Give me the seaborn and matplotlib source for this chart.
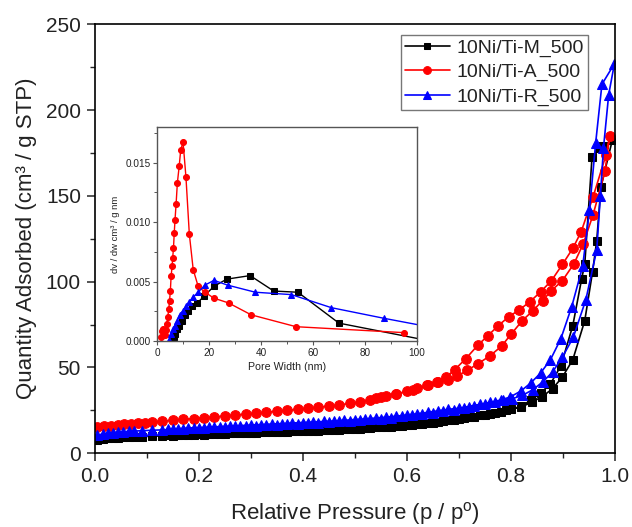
import numpy as np
import pandas as pd
import matplotlib
matplotlib.use("Agg")
import matplotlib.pyplot as plt
import seaborn as sns
from matplotlib.ticker import MultipleLocator

# ---------------- main isotherm data ----------------
m_ads_p = [0.005, 0.015, 0.025, 0.035, 0.045, 0.055, 0.065, 0.075, 0.090, 0.110, 0.130, 0.150, 0.170,
           0.190, 0.210, 0.230, 0.250, 0.270, 0.290, 0.310, 0.330, 0.350, 0.370, 0.390, 0.410, 0.430,
           0.450, 0.470, 0.490, 0.510, 0.530, 0.550, 0.570, 0.590, 0.610, 0.630, 0.650, 0.670, 0.690,
           0.710, 0.730, 0.750, 0.770, 0.790, 0.820, 0.840, 0.859, 0.880, 0.899, 0.919, 0.942, 0.957,
           0.965, 0.973, 0.995]
m_ads_q = [7.9, 8.3, 8.6, 8.8, 9.0, 9.2, 9.4, 9.5, 9.7, 9.9, 10.1, 10.3, 10.5,
           10.7, 10.9, 11.1, 11.3, 11.5, 11.7, 11.9, 12.1, 12.3, 12.5, 12.7, 12.9, 13.1,
           13.3, 13.6, 13.9, 14.2, 14.6, 15.0, 15.4, 15.9, 16.5, 17.1, 17.8, 18.5, 19.4,
           20.3, 21.3, 22.4, 23.6, 25.0, 26.9, 29.8, 32.7, 37.6, 44.4, 54.5, 77.3, 105.8,
           123.8, 155.0, 182.5]
m_des_p = [0.978, 0.970, 0.956, 0.942, 0.936, 0.919, 0.896, 0.876, 0.857, 0.838, 0.819, 0.800,
           0.780, 0.760, 0.740, 0.720, 0.700, 0.680, 0.660, 0.640, 0.620, 0.600, 0.580, 0.560,
           0.540, 0.520, 0.500, 0.480, 0.460, 0.440, 0.420, 0.400, 0.380, 0.360, 0.340, 0.320,
           0.300, 0.280, 0.260, 0.240, 0.220, 0.200, 0.180, 0.160, 0.140]
m_des_q = [179.0, 178.0, 172.7, 110.3, 101.6, 74.4, 50.8, 40.5, 35.0, 30.8, 27.3, 25.6,
           24.2, 23.0, 22.0, 21.0, 20.0, 19.2, 18.4, 17.7, 17.0, 16.4, 15.9, 15.4,
           15.0, 14.6, 14.3, 14.0, 13.7, 13.4, 13.2, 13.0, 12.8, 12.6, 12.4, 12.2,
           12.0, 11.8, 11.6, 11.4, 11.2, 11.0, 10.8, 10.6, 10.4]

a_ads_p = [0.005, 0.018, 0.031, 0.044, 0.057, 0.070, 0.083, 0.096, 0.110, 0.130, 0.150, 0.170, 0.190,
           0.210, 0.230, 0.250, 0.270, 0.290, 0.310, 0.330, 0.350, 0.370, 0.390, 0.410, 0.430, 0.450,
           0.470, 0.490, 0.510, 0.530, 0.550, 0.580, 0.612, 0.638, 0.657, 0.680, 0.696, 0.716, 0.736,
           0.760, 0.782, 0.801, 0.822, 0.842, 0.861, 0.878, 0.899, 0.921, 0.939, 0.958, 0.981, 0.990]
a_ads_q = [15.0, 15.6, 16.1, 16.6, 17.0, 17.3, 17.6, 17.9, 18.2, 18.7, 19.2, 19.7, 20.2,
           20.7, 21.2, 21.7, 22.2, 22.8, 23.3, 23.9, 24.4, 25.0, 25.6, 26.2, 26.8, 27.5,
           28.2, 29.0, 29.9, 31.0, 32.5, 34.5, 37.0, 39.5, 41.3, 42.6, 44.8, 48.3, 52.0,
           56.8, 62.4, 69.6, 77.3, 83.0, 89.0, 94.8, 100.6, 110.3, 122.0, 139.0, 164.5, 185.0]
a_des_p = [0.983, 0.958, 0.935, 0.919, 0.899, 0.878, 0.857, 0.837, 0.816, 0.796, 0.776, 0.756,
           0.736, 0.713, 0.692, 0.676, 0.660, 0.640, 0.620, 0.600, 0.580, 0.560, 0.540]
a_des_q = [174.0, 149.4, 129.0, 119.4, 110.0, 100.6, 94.0, 88.4, 83.5, 79.6, 74.4, 68.6,
           62.8, 55.0, 48.7, 44.5, 41.5, 39.5, 37.8, 36.0, 34.6, 33.2, 32.0]

r_ads_p = [0.005, 0.015, 0.025, 0.035, 0.045, 0.055, 0.065, 0.075, 0.090, 0.110, 0.130, 0.150, 0.170,
           0.190, 0.210, 0.230, 0.250, 0.270, 0.290, 0.310, 0.330, 0.350, 0.370, 0.390, 0.410, 0.430,
           0.450, 0.470, 0.490, 0.510, 0.530, 0.550, 0.570, 0.590, 0.610, 0.630, 0.650, 0.670, 0.690,
           0.710, 0.730, 0.750, 0.770, 0.785, 0.803, 0.822, 0.842, 0.861, 0.880, 0.899, 0.920, 0.944,
           0.965, 0.972, 0.978, 0.988, 0.999]
r_ads_q = [10.5, 11.2, 11.6, 12.0, 12.3, 12.5, 12.7, 12.9, 13.1, 13.4, 13.6, 13.9, 14.2,
           14.5, 14.7, 15.0, 15.3, 15.6, 15.9, 16.1, 16.4, 16.7, 17.0, 17.3, 17.6, 17.9,
           18.2, 18.5, 18.9, 19.3, 19.7, 20.2, 20.8, 21.4, 22.1, 22.8, 23.6, 24.5, 25.4,
           26.4, 27.5, 28.7, 30.0, 30.8, 31.8, 33.7, 37.0, 41.5, 47.3, 56.0, 67.6, 89.4,
           118.4, 150.0, 178.0, 209.0, 227.0]
r_des_p = [0.975, 0.963, 0.951, 0.938, 0.917, 0.896, 0.876, 0.857, 0.838, 0.819, 0.798,
           0.780, 0.760, 0.740, 0.720, 0.700, 0.680, 0.660, 0.640, 0.620, 0.600, 0.580, 0.560,
           0.540, 0.520, 0.500, 0.480, 0.460, 0.440, 0.420, 0.400, 0.380, 0.360, 0.340, 0.320,
           0.300, 0.280, 0.260, 0.240, 0.220, 0.200, 0.180, 0.160, 0.140]
r_des_q = [215.0, 181.0, 141.5, 109.0, 85.5, 66.7, 54.5, 46.7, 40.9, 36.2, 32.7,
           31.0, 29.6, 28.4, 27.2, 26.2, 25.6, 24.7, 23.8, 23.0, 22.3, 21.6, 21.0,
           20.5, 20.0, 19.6, 19.2, 18.8, 18.5, 18.2, 17.9, 17.6, 17.3, 17.0, 16.7,
           16.4, 16.1, 15.8, 15.5, 15.2, 14.9, 14.6, 14.3, 14.0]

# ---------------- inset pore size distribution ----------------
a_psd_w = [1.4, 1.8, 2.3, 2.8, 3.2, 3.6, 4.0, 4.4, 4.7, 5.0, 5.3, 5.7, 5.9, 6.2, 6.5, 6.8, 7.2,
           7.7, 8.4, 9.0, 9.9, 11.0, 12.3, 13.8, 15.7, 18.3, 21.8, 27.4, 36.1, 53.4, 95.0]
a_psd_v = [0.0003, 0.0008, 0.0010, 0.0005, 0.0009, 0.0014, 0.0020, 0.0027, 0.0034, 0.0042, 0.0055,
           0.0063, 0.0070, 0.0078, 0.0091, 0.0102, 0.0115, 0.0133, 0.0147, 0.0161, 0.0167, 0.0138,
           0.0090, 0.0060, 0.0046, 0.0041, 0.0036, 0.0032, 0.0022, 0.0012, 0.0007]
m_psd_w = [6.1, 6.5, 6.8, 7.6, 8.4, 9.3, 10.6, 11.9, 13.5, 15.4, 18.1, 21.8, 26.7, 35.7, 44.8,
           54.1, 69.9, 105.0]
m_psd_v = [0.00005, 0.0003, 0.0006, 0.0010, 0.0013, 0.0017, 0.0022, 0.0025, 0.0029, 0.0032,
           0.0038, 0.0046, 0.0052, 0.0055, 0.0042, 0.0041, 0.0015, 0.0]
r_psd_w = [4.6, 5.4, 6.1, 6.7, 7.6, 8.6, 9.7, 11.0, 12.3, 13.8, 15.7, 18.3, 21.8, 27.0, 37.7,
           51.6, 67.0, 87.4, 114.0]
r_psd_v = [0.0001, 0.0006, 0.0010, 0.0013, 0.0017, 0.0022, 0.0025, 0.0029, 0.0033, 0.0037,
           0.0041, 0.0047, 0.0051, 0.0047, 0.0041, 0.0039, 0.0028, 0.0019, 0.0008]

labels = ["10Ni/Ti-M_500", "10Ni/Ti-A_500", "10Ni/Ti-R_500"]
colors = ["#000000", "#ff0000", "#0000ff"]
markers = ["s", "o", "^"]

sns.set_style("ticks")
plt.rcParams["font.family"] = ["Liberation Sans", "DejaVu Sans"]
plt.rcParams["mathtext.fontset"] = "custom"
plt.rcParams["mathtext.rm"] = "Liberation Sans"
plt.rcParams["mathtext.it"] = "Liberation Sans:italic"

fig = plt.figure(figsize=(6.32, 5.27), dpi=100)
ax = fig.add_axes([0.150, 0.140, 0.823, 0.814])

iso = [(m_ads_p + m_des_p, m_ads_q + m_des_q),
       (a_ads_p + a_des_p, a_ads_q + a_des_q),
       (r_ads_p + r_des_p, r_ads_q + r_des_q)]
msizes = [6, 7, 7]
for (p, q), lab, c, mk, ms in zip(iso, labels, colors, markers, msizes):
    df = pd.DataFrame({"p": p, "q": q})
    sns.lineplot(data=df, x="p", y="q", ax=ax, sort=False, estimator=None, color=c,
                 marker=mk, markersize=ms, markeredgecolor=c, markerfacecolor=c,
                 linewidth=1.2, label=lab)

ax.set_xlim(0, 1.0)
ax.set_ylim(0, 250)
ax.xaxis.set_major_locator(MultipleLocator(0.2))
ax.xaxis.set_minor_locator(MultipleLocator(0.1))
ax.yaxis.set_major_locator(MultipleLocator(50))
ax.yaxis.set_minor_locator(MultipleLocator(25))
ax.xaxis.set_major_formatter(matplotlib.ticker.FormatStrFormatter("%.1f"))
ax.tick_params(which="major", direction="out", length=6, width=1.1, labelsize=15, pad=4,
               top=False, right=False, labelcolor="#222222")
ax.tick_params(which="minor", direction="out", length=3.5, width=1.0, top=False, right=False)
for s in ax.spines.values():
    s.set_linewidth(1.2)
    s.set_color("black")
    s.set_visible(True)
ax.set_xlabel("Relative Pressure (p / p$^{\\mathrm{o}}$)", fontsize=16, color="#222222", labelpad=10)
ax.set_ylabel("Quantity Adsorbed (cm³ / g STP)", fontsize=16, color="#222222", labelpad=6)

leg = ax.legend(loc="upper right", bbox_to_anchor=(0.948, 0.975), fontsize=14, frameon=True,
                fancybox=False, edgecolor="#555555", handlelength=2.3, handletextpad=0.35,
                borderpad=0.2, labelspacing=0.35, borderaxespad=0.0, markerscale=0.8)
leg.get_frame().set_linewidth(1.0)
for t in leg.get_texts():
    t.set_color("#222222")

# ---------------- inset ----------------
ins = fig.add_axes([0.249, 0.353, 0.411, 0.406])
psd = [(m_psd_w, m_psd_v), (a_psd_w, a_psd_v), (r_psd_w, r_psd_v)]
isizes = [3.8, 4.3, 4.3]
for (w, v), c, mk, ms in zip(psd, colors, markers, isizes):
    df = pd.DataFrame({"w": w, "v": v})
    sns.lineplot(data=df, x="w", y="v", ax=ins, sort=False, estimator=None, color=c,
                 marker=mk, markersize=ms, markeredgecolor=c, markerfacecolor=c,
                 linewidth=1.0, legend=False)
ins.set_xlim(0, 100)
ins.set_ylim(0, 0.018)
ins.xaxis.set_major_locator(MultipleLocator(20))
ins.xaxis.set_minor_locator(MultipleLocator(10))
ins.yaxis.set_major_locator(MultipleLocator(0.005))
ins.yaxis.set_minor_locator(MultipleLocator(0.0025))
ins.yaxis.set_major_formatter(matplotlib.ticker.FormatStrFormatter("%.3f"))
ins.tick_params(which="major", direction="out", length=3, width=0.8, labelsize=7.2, pad=2,
                labelcolor="#222222", colors="#555555")
ins.tick_params(which="minor", direction="out", length=2, width=0.7, colors="#555555")
for lbl in ins.get_xticklabels() + ins.get_yticklabels():
    lbl.set_color("#222222")
for s in ins.spines.values():
    s.set_linewidth(1.0)
    s.set_color("#555555")
    s.set_visible(True)
ins.set_xlabel("Pore Width (nm)", fontsize=7.7, color="#222222", labelpad=3)
ins.set_ylabel("dv / dw cm³ / g nm", fontsize=6.8, color="#222222", labelpad=4)

fig.savefig("out.png", dpi=100)
